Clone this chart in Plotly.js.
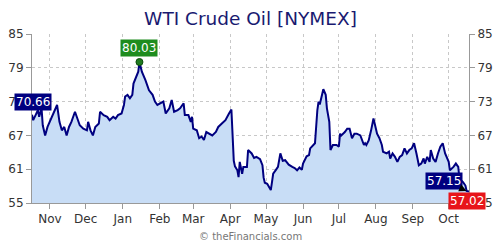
<!DOCTYPE html>
<html>
<head>
<meta charset="utf-8">
<script src="https://cdn.plot.ly/plotly-3.0.1.min.js"></script>
<style>html,body{margin:0;padding:0;background:#fff;}#chart{width:500px;height:250px;}</style>
</head>
<body>
<div id="chart"></div>
<script>
const dates = [
"2024-10-17","2024-10-18","2024-10-20","2024-10-22","2024-10-23","2024-10-25","2024-10-26","2024-10-28","2024-10-30",
"2024-11-02","2024-11-06","2024-11-07","2024-11-09","2024-11-11","2024-11-13","2024-11-15","2024-11-17","2024-11-19",
"2024-11-22","2024-11-24","2024-11-26","2024-11-29","2024-12-02","2024-12-03","2024-12-05","2024-12-07","2024-12-09",
"2024-12-12","2024-12-13","2024-12-16","2024-12-19","2024-12-21","2024-12-24","2024-12-26","2024-12-28","2024-12-31",
"2025-01-02","2025-01-03","2025-01-05","2025-01-07","2025-01-09","2025-01-10","2025-01-12","2025-01-14","2025-01-15",
"2025-01-17","2025-01-20","2025-01-23","2025-01-26","2025-01-28","2025-01-30","2025-02-01","2025-02-04","2025-02-06",
"2025-02-09","2025-02-11","2025-02-13","2025-02-16","2025-02-18","2025-02-21","2025-02-22","2025-02-25","2025-02-27",
"2025-02-28","2025-03-01","2025-03-04","2025-03-06","2025-03-08","2025-03-10","2025-03-12","2025-03-14","2025-03-17",
"2025-03-20","2025-03-22","2025-03-25","2025-03-28","2025-03-31","2025-04-02","2025-04-04","2025-04-05","2025-04-07",
"2025-04-08","2025-04-09","2025-04-11","2025-04-12","2025-04-15","2025-04-16","2025-04-19","2025-04-21","2025-04-23",
"2025-04-26","2025-04-28","2025-04-29","2025-04-30","2025-05-02","2025-05-05","2025-05-06","2025-05-07","2025-05-09",
"2025-05-11","2025-05-13","2025-05-15","2025-05-17","2025-05-20","2025-05-23","2025-05-25","2025-05-27","2025-05-29",
"2025-05-31","2025-06-01","2025-06-04","2025-06-06","2025-06-07","2025-06-10","2025-06-11","2025-06-13","2025-06-14",
"2025-06-15","2025-06-17","2025-06-18","2025-06-20","2025-06-21","2025-06-23","2025-06-24","2025-06-26","2025-06-29",
"2025-07-01","2025-07-02","2025-07-03","2025-07-06","2025-07-08","2025-07-10","2025-07-12","2025-07-14","2025-07-16",
"2025-07-19","2025-07-22","2025-07-23","2025-07-24","2025-07-26","2025-07-28","2025-07-30","2025-07-31","2025-08-02",
"2025-08-04","2025-08-06","2025-08-07","2025-08-10","2025-08-12","2025-08-13","2025-08-15","2025-08-17","2025-08-19",
"2025-08-21","2025-08-23","2025-08-25","2025-08-27","2025-08-29","2025-08-31","2025-09-02","2025-09-04","2025-09-06",
"2025-09-08","2025-09-10","2025-09-11","2025-09-13","2025-09-15","2025-09-16","2025-09-18","2025-09-20","2025-09-22",
"2025-09-24","2025-09-26","2025-09-28","2025-10-01","2025-10-02","2025-10-05","2025-10-07","2025-10-09","2025-10-10",
"2025-10-13","2025-10-15","2025-10-16","2025-10-18"
];
const prices = [
70.66,69.7,70.6,71.5,70.3,71.8,68.8,67.0,68.5,
70.0,71.8,72.4,69.4,67.9,68.5,67.0,68.5,69.4,
71.2,70.0,68.8,68.2,67.9,69.4,67.9,67.0,68.5,
69.1,71.2,70.6,70.3,69.7,70.3,70.0,70.6,70.9,
72.4,73.9,74.2,73.6,74.2,76.2,77.4,78.3,80.03,
78.3,76.8,75.0,74.2,73.0,72.4,72.7,73.0,70.9,
71.8,73.3,71.2,71.5,71.8,72.7,70.6,70.6,69.4,
70.3,68.2,67.9,66.5,66.8,66.2,67.6,67.3,67.0,
67.6,68.5,69.1,69.7,70.9,71.6,62.5,61.5,60.8,
59.6,62.3,60.2,61.4,61.4,64.4,63.8,63.0,63.2,
62.8,61.7,59.5,58.6,58.4,57.3,58.7,60.2,60.8,
61.4,63.8,62.5,62.6,61.8,61.4,61.2,60.8,61.3,
60.9,62.0,63.3,63.5,64.7,65.3,65.6,71.5,73.0,
72.5,74.7,75.2,74.2,71.8,69.4,64.4,65.3,65.3,
65.0,67.3,67.0,67.6,68.2,68.2,66.5,67.3,67.3,
67.0,65.3,65.6,65.3,66.1,67.9,70.0,69.1,67.3,
66.5,65.3,64.1,63.8,64.1,62.9,63.8,63.2,62.3,
63.2,63.5,64.7,63.8,64.4,64.7,65.6,63.8,61.7,
62.0,62.9,62.0,63.2,62.3,64.4,62.9,62.3,63.8,
65.0,65.6,63.8,62.3,60.8,61.4,62.0,61.4,59.3,
58.7,58.1,57.15,57.02
];
const yTicks = [55, 61, 67, 73, 79, 85];
const titleText = "WTI Crude Oil [NYMEX]";
const footerText = "© theFinancials.com";

const n = prices.length;
let peakIdx = 0;
for (let i = 1; i < n; i++) if (prices[i] > prices[peakIdx]) peakIdx = i;
const fmt = v => v.toFixed(2);

const navy = "#000080";
const fam = "DejaVu Sans, Verdana, sans-serif";
const traces = [
  {x: dates, y: prices, type: "scatter", mode: "lines", fill: "tozeroy",
   fillcolor: "#c8ddf6", line: {color: navy, width: 2}, hoverinfo: "skip"},
  {x: dates, y: prices, type: "scatter", mode: "lines", yaxis: "y2",
   line: {width: 0, color: "rgba(0,0,0,0)"}, hoverinfo: "skip"},
  {x: [dates[peakIdx]], y: [prices[peakIdx]], type: "scatter", mode: "markers",
   marker: {color: "#1f7a1f", size: 7, line: {color: "#0b4d0b", width: 1}}, hoverinfo: "skip"}
];

const axisFont = {family: fam, size: 12, color: "#333"};
const yCommon = {range: [55, 85], tickvals: yTicks, ticktext: yTicks.map(String),
  ticks: "outside", ticklen: 5, tickcolor: "#999", showline: true, linecolor: "#999",
  zeroline: false, tickfont: axisFont, fixedrange: true};

const layout = {
  width: 500, height: 250,
  margin: {l: 32, r: 31, t: 34, b: 47, pad: 0},
  paper_bgcolor: "#fff", plot_bgcolor: "#fff",
  showlegend: false,
  font: axisFont,
  title: {text: titleText, font: {family: fam, size: 18.5, color: "#191970"},
          x: 0.5, xanchor: "center", xref: "paper", y: 1 - 19/250, yref: "container", yanchor: "middle"},
  xaxis: {type: "date", range: [dates[0], dates[n-1]], dtick: "M1", tick0: "2024-11-01",
    tickformat: "%b", ticks: "outside", ticklen: 5, tickcolor: "#999", showline: true, linecolor: "#999",
    showgrid: true, gridcolor: "#c8c8c8", griddash: "dot", gridwidth: 1, zeroline: false, tickfont: axisFont},
  yaxis: Object.assign({}, yCommon, {side: "left", showgrid: true, gridcolor: "#c8c8c8", griddash: "dot"}),
  yaxis2: Object.assign({}, yCommon, {side: "right", overlaying: "y", showgrid: false}),
  annotations: [
    {xref: "paper", x: 0, yref: "y", y: prices[0], text: fmt(prices[0]), showarrow: false,
     xanchor: "center", yanchor: "middle", xshift: 1, yshift: 13, bgcolor: navy, borderpad: 1,
     font: {family: fam, size: 12, color: "#fff"}},
    {xref: "x", x: dates[peakIdx], yref: "y", y: prices[peakIdx], text: fmt(prices[peakIdx]), showarrow: false,
     xanchor: "center", yanchor: "middle", yshift: 14, bgcolor: "#1e8c1e", borderpad: 1,
     font: {family: fam, size: 12, color: "#fff"}},
    {xref: "x", x: dates[n-2], yref: "y", y: prices[n-2], text: fmt(prices[n-2]), showarrow: true,
     ax: -23, ay: -10, arrowhead: 2, arrowsize: 1, arrowwidth: 1.5, arrowcolor: "#000",
     bgcolor: navy, borderpad: 1,
     font: {family: fam, size: 12, color: "#fff"}},
    {xref: "paper", x: 1, yref: "y", y: prices[n-1], text: fmt(prices[n-1]), showarrow: false,
     xanchor: "center", yanchor: "middle", xshift: -2, yshift: -9, bgcolor: "#e8141a", borderpad: 1,
     font: {family: fam, size: 12, color: "#fff"}},
    {xref: "paper", x: 0.5, yref: "paper", y: -0.197, text: footerText, showarrow: false,
     xanchor: "center", yanchor: "middle",
     font: {family: fam, size: 10, color: "#777"}}
  ]
};

Plotly.newPlot("chart", traces, layout, {displayModeBar: false, staticPlot: true});
</script>
</body>
</html>
